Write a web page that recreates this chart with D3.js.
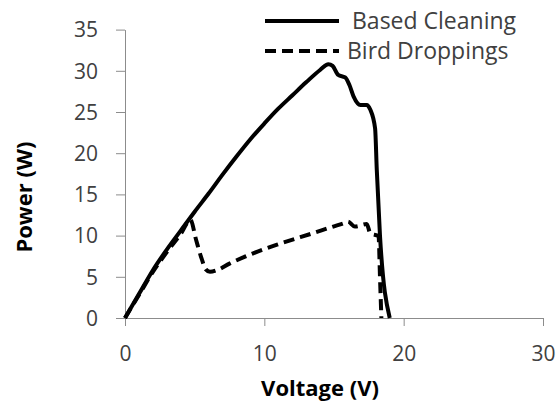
<!DOCTYPE html>
<html lang="en">
<head>
  <meta charset="UTF-8">
  <style>
    body {
      margin: 0;
      overflow: hidden;
      background: #fff;
    }

    svg {
      display: block;
    }

    .axis text {
      font-family: "Open Sans", sans-serif;
      font-size: 21px;
      fill: #404040;
    }

    .axis path,
    .axis line {
      stroke: #8c8c8c;
      stroke-width: 1;
    }

    .title {
      font-family: "Open Sans", sans-serif;
      font-weight: bold;
      font-size: 22px;
      fill: #000;
    }

    .legend text {
      font-family: "Open Sans", sans-serif;
      font-size: 23px;
      fill: #404040;
    }

    .curve {
      fill: none;
      stroke: #000;
      stroke-width: 4;
      stroke-linejoin: round;
    }

    .dashed {
      stroke-dasharray: 11, 6;
    }
  </style>
  <script src="https://d3js.org/d3.v7.min.js"></script>
</head>
<body>

<svg id="chart"></svg>

<script>
  // Based Cleaning curve
  const cleanVoltage = [0, 1, 2, 3, 4, 5, 6, 7, 8, 9, 10, 11, 12, 13, 14, 14.6, 14.9, 15.3, 15.8, 16.1, 16.4, 16.9, 17.35, 17.6, 17.95, 18.07, 18.3, 19.0];
  const cleanPower   = [0, 2.9, 5.8, 8.3, 10.6, 12.9, 15.1, 17.4, 19.6, 21.7, 23.6, 25.4, 27.0, 28.6, 30.1, 30.8, 30.6, 29.5, 29.2, 28.3, 26.9, 25.85, 25.85, 25.3, 23.0, 18.0, 10.0, 0];

  // Bird Droppings curve
  const birdVoltage = [0, 1, 2, 3, 4, 4.7, 5.1, 5.5, 5.8, 6.1, 6.6, 7.5, 9.2, 11.1, 13.5, 14.95, 15.7, 16.0, 16.5, 17.35, 17.6, 18.2, 18.3, 18.4];
  const birdPower   = [0, 2.8, 5.6, 8.0, 10.2, 11.9, 9.5, 7.2, 5.9, 5.6, 5.8, 6.6, 7.85, 9.0, 10.3, 11.1, 11.5, 11.7, 11.1, 11.4, 10.3, 9.9, 5.0, 0];

  const xTicks = [0, 10, 20, 30];
  const yTicks = [0, 5, 10, 15, 20, 25, 30, 35];

  const seriesNames = ["Based Cleaning", "Bird Droppings"];

  const width = 560, height = 404;
  const margin = { left: 125, right: 17, top: 29.6, bottom: 86 };

  const svg = d3.select("#chart")
    .attr("width", width)
    .attr("height", height);

  const x = d3.scaleLinear().domain([0, 30]).range([margin.left, width - margin.right]);
  const y = d3.scaleLinear().domain([0, 35]).range([height - margin.bottom, margin.top]);

  // axes
  svg.append("g")
    .attr("class", "axis")
    .attr("transform", `translate(0,${y(0)})`)
    .call(d3.axisBottom(x).tickValues(xTicks).tickSize(8).tickPadding(24).tickSizeOuter(0))
    .selectAll("text").attr("dy", "0.5em");

  svg.append("g")
    .attr("class", "axis")
    .attr("transform", `translate(${x(0)},0)`)
    .call(d3.axisLeft(y).tickValues(yTicks).tickSize(9).tickPadding(18).tickSizeOuter(0))
    .selectAll("text").attr("dy", "0.35em");

  // axis titles
  svg.append("text")
    .attr("class", "title")
    .attr("x", 320)
    .attr("y", 396)
    .attr("text-anchor", "middle")
    .text("Voltage (V)");

  svg.append("text")
    .attr("class", "title")
    .attr("transform", "translate(32,197) rotate(-90)")
    .attr("text-anchor", "middle")
    .text("Power (W)");

  // curves
  const line = d3.line()
    .curve(d3.curveMonotoneX)
    .x(d => x(d[0]))
    .y(d => y(d[1]));

  const cleanData = d3.zip(cleanVoltage, cleanPower);
  const birdData = d3.zip(birdVoltage, birdPower);

  svg.append("path")
    .attr("class", "curve dashed")
    .attr("d", line(birdData));

  svg.append("path")
    .attr("class", "curve")
    .attr("d", line(cleanData));

  // legend
  const legend = svg.append("g").attr("class", "legend");
  const legendY = [21, 51];

  seriesNames.forEach((name, i) => {
    legend.append("line")
      .attr("class", i === 0 ? "curve" : "curve dashed")
      .attr("x1", 265)
      .attr("x2", 339)
      .attr("y1", legendY[i])
      .attr("y2", legendY[i]);

    legend.append("text")
      .attr("x", i === 0 ? 352 : 347)
      .attr("y", legendY[i] + 8)
      .text(name);
  });
</script>

</body>
</html>
